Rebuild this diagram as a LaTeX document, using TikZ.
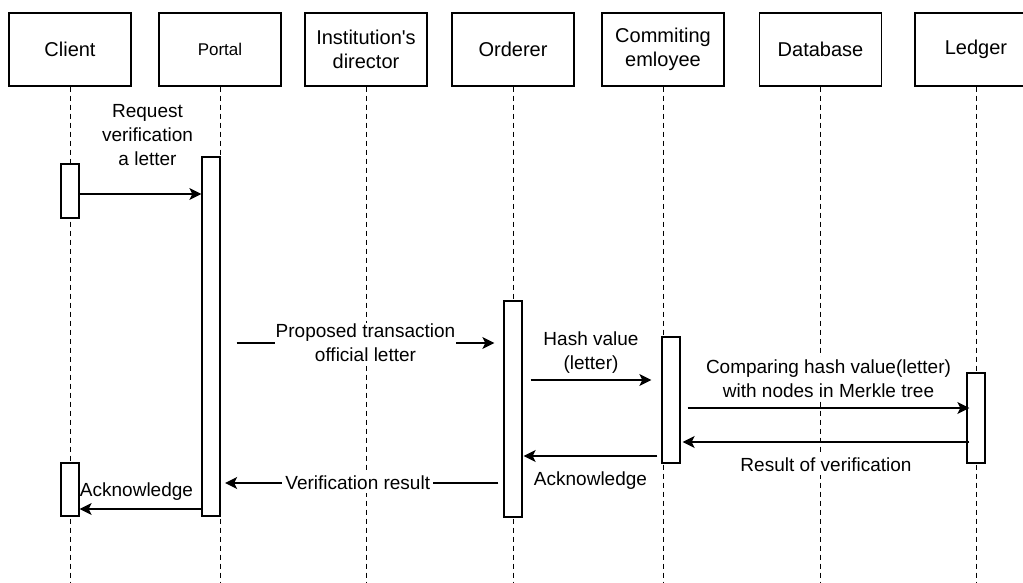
\documentclass[tikz,border=0pt]{standalone}
\usepackage{fontspec}
\setmainfont{Liberation Sans}[Ligatures=TeXOff]
\usetikzlibrary{arrows.meta}
\begin{document}
\begin{tikzpicture}[x=1pt,y=-1pt,
  head/.style={draw,line width=1.4pt,minimum width=122pt,minimum height=73pt,align=center,font=\fontsize{20}{24}\selectfont},
  life/.style={dash pattern=on 5pt off 4pt,line width=1pt},
  bar/.style={draw,fill=white,line width=1.3pt,minimum width=18pt,inner sep=0pt},
  msg/.style={line width=1.3pt,-{Stealth[length=12pt,width=12pt,inset=3pt]}},
  lbl/.style={font=\fontsize{19}{24}\selectfont,align=center}]
\useasboundingbox (0,0) rectangle (1023,583);
%heads
\node[head] (client) at (70,49.5) {Client};
\node[head,font=\fontsize{17}{20}\selectfont] (portal) at (220,49.5) {Portal};
\node[head] (director) at (366,49.5) {Institution's\\director};
\node[head] (orderer) at (513,49.5) {Orderer};
\node[head] (employee) at (663,49.5) {Commiting\\emloyee};
\node[head] (database) at (820.5,49.5) {Database};
\node[head] (ledger) at (976,49.5) {Ledger};
%lifelines
\foreach \n in {client,portal,director,orderer,employee,database,ledger}
  \draw[life] (\n.south) -- (\n.south |- 0,583);
%bars
\node[bar,minimum height=54pt] (cbar1) at (70,191) {};
\node[bar,minimum height=53pt] (cbar2) at (70,489.5) {};
\node[bar,minimum height=359pt] (pbar) at (211,336.5) {};
\node[bar,minimum height=216pt] (obar) at (513,409) {};
\node[bar,minimum height=126pt] (ebar) at (671,400) {};
\node[bar,minimum height=90pt] (lbar) at (976,418) {};
%messages
\draw[msg] (cbar1.east |- 0,194) -- (pbar.west |- 0,194)
  node[lbl,midway,above=24pt,xshift=7pt]{Request\\verification\\a letter};
\draw[msg] ([xshift=16pt]pbar.east |- 0,343) -- ([xshift=-9pt]obar.west |- 0,343)
  node[lbl,midway,fill=white,inner sep=1pt]{Proposed transaction\\official letter};
\draw[msg] ([xshift=8pt]obar.east |- 0,380) -- ([xshift=-10pt]ebar.west |- 0,380)
  node[lbl,midway,above=3pt]{Hash value\\(letter)};
\draw[msg] ([xshift=7pt]ebar.east |- 0,408) -- ([xshift=3pt]lbar.west |- 0,408)
  node[lbl,midway,above=6pt,fill=white]{Comparing hash value(letter)\\with nodes in Merkle tree};
\draw[msg] ([xshift=3pt]lbar.west |- 0,442) -- ([xshift=2pt]ebar.east |- 0,442)
  node[lbl,midway,below=12pt,fill=white]{Result of verification};
\draw[msg] ([xshift=-4pt]ebar.west |- 0,456) -- ([xshift=1pt]obar.east |- 0,456)
  node[lbl,midway,below=12pt]{Acknowledge};
\draw[msg] ([xshift=-5pt]obar.west |- 0,483) -- ([xshift=4.5pt]pbar.east |- 0,483)
  node[lbl,midway,fill=white,xshift=-4pt]{Verification result};
\draw[msg] (pbar.west |- 0,509) -- (cbar2.east |- 0,509)
  node[lbl,midway,above=4.5pt,xshift=-4pt]{Acknowledge};
\end{tikzpicture}
\end{document}
